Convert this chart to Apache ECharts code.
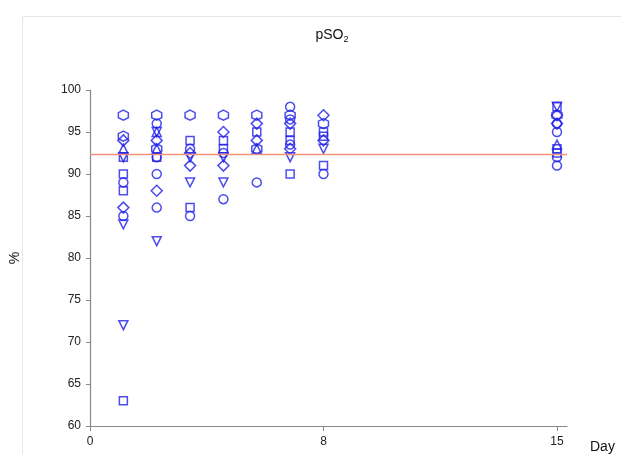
<!DOCTYPE html>
<html>
<head>
<meta charset="utf-8">
<script src="https://cdn.jsdelivr.net/npm/echarts@6/dist/echarts.min.js"></script>
<style>html,body{margin:0;padding:0;background:#fff}#c{width:621px;height:454px}</style>
</head>
<body>
<div id="c"></div>
<script>
// Column positions on the x scale (tick labels below show the day numbers)
var xTickValues = [0, 7, 14];
var xTickLabels = ["0", "8", "15"];
var yTicks = [60, 65, 70, 75, 80, 85, 90, 95, 100];
var referenceLevel = 92.4;

// Each series: [column position, pSO2 %]
var circles = [[1,89],[1,85],[2,96],[2,92],[2,90],[2,86],[3,93],[3,85],[4,92.5],[4,87],[5,89],
  [6,98],[6,96.5],[6,93.5],[7,90],[14,96],[14,95],[14,92],[14,91]];
var squares = [[1,92],[1,90],[1,88],[1,63],[2,92],[3,94],[3,86],[4,94],[4,93],[5,95],
  [6,95],[6,94],[6,90],[7,95],[7,94.5],[7,91],[14,98],[14,93],[14,92.5]];
var diamonds = [[1,94],[1,86],[2,94],[2,88],[3,92.5],[3,91],[4,95],[4,91],[5,96],[5,94],
  [6,96],[6,93],[7,97],[7,94],[14,97],[14,96]];
var trianglesUp = [[1,93],[2,95],[2,93],[5,93],[14,93.5]];
var trianglesDown = [[1,92],[1,84],[1,72],[2,95],[2,82],[3,92],[3,89],[4,92],[4,89],[6,92],[7,93],[14,98]];
var hexagons = [[1,97],[1,94.5],[2,97],[2,93],[3,97],[4,97],[5,97],[5,93],[6,97],[7,96],[14,97]];

var blue = '#2020e8';
var hexPath = 'path://M0,-10L8.66,-5L8.66,5L0,10L-8.66,5L-8.66,-5Z';
function mk(name, data, symbol, size, rot) {
  return {
    name: name, type: 'scatter', data: data, symbol: symbol, symbolSize: size,
    symbolRotate: rot || 0,
    itemStyle: { color: 'rgba(255,255,255,0)', borderColor: blue, borderWidth: 1.5 },
    emphasis: { disabled: true }, z: 3
  };
}
var series = [
  mk('circle', circles, 'circle', 9),
  mk('square', squares, 'rect', 8),
  mk('diamond', diamonds, 'diamond', 11),
  mk('triangle', trianglesUp, 'triangle', 9),
  mk('triangleDown', trianglesDown, 'triangle', 9, 180),
  mk('hexagon', hexagons, hexPath, 10)
];
series[0].markLine = {
  silent: true, symbol: ['none', 'none'], label: { show: false },
  lineStyle: { color: '#ef9477', width: 1.4, type: 'solid' },
  data: [{ yAxis: referenceLevel }]
};

var chart = echarts.init(document.getElementById('c'), null, { renderer: 'canvas' });
chart.setOption({
  animation: false,
  backgroundColor: '#fff',
  textStyle: { fontFamily: 'Liberation Sans, Arial, sans-serif' },
  title: {
    text: '{a|pSO}{b|2}',
    left: 327, top: 22, textAlign: 'center',
    textStyle: {
      fontWeight: 'normal',
      rich: {
        a: { fontSize: 14, color: '#111', fontWeight: 'normal', fontFamily: 'Liberation Sans' },
        b: { fontSize: 9, color: '#111', fontWeight: 'normal', fontFamily: 'Liberation Sans', verticalAlign: 'bottom', padding: [8, 0, 0, 0] }
      }
    }
  },
  graphic: [{
    type: 'rect', shape: { x: 22.5, y: 16.5, width: 700, height: 600 },
    style: { fill: 'none', stroke: '#e6e6e6', lineWidth: 1 }, silent: true, z: -1
  }],
  grid: { left: 90, right: 54, top: 90, bottom: 27, containLabel: false },
  xAxis: {
    type: 'value', min: 0, max: 14.3, interval: 7,
    name: 'Day', nameLocation: 'end', nameGap: 23,
    nameTextStyle: { fontSize: 14, color: '#111', verticalAlign: 'top', padding: [14, 0, 0, 0] },
    axisLine: { show: true, onZero: false, lineStyle: { color: '#888', width: 1.2 } },
    axisTick: { show: true, length: 5, lineStyle: { color: '#888' },
      customValues: xTickValues },
    axisLabel: { fontSize: 12, color: '#222', margin: 10,
      customValues: xTickValues,
      formatter: function (v) { var i = xTickValues.indexOf(v); return i >= 0 ? xTickLabels[i] : ''; } },
    splitLine: { show: false }
  },
  yAxis: {
    type: 'value', min: yTicks[0], max: yTicks[yTicks.length - 1], interval: 5,
    name: '%', nameLocation: 'middle', nameGap: 68, nameRotate: 90,
    nameTextStyle: { fontSize: 14, color: '#111' },
    axisLine: { show: true, lineStyle: { color: '#888', width: 1.2 } },
    axisTick: { show: true, length: 4, lineStyle: { color: '#888' } },
    axisLabel: { fontSize: 12, color: '#222', margin: 9 },
    splitLine: { show: false }
  },
  series: series
});
</script>
</body>
</html>
